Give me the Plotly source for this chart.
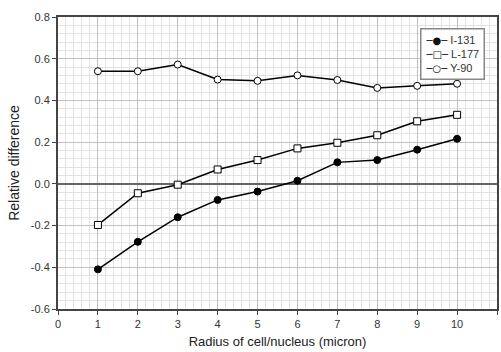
import plotly.graph_objects as go

radius = [1, 2, 3, 4, 5, 6, 7, 8, 9, 10]
i131 = [-0.41, -0.278, -0.16, -0.077, -0.037, 0.015, 0.103, 0.114, 0.164, 0.216]
l177 = [-0.197, -0.045, -0.004, 0.069, 0.114, 0.17, 0.197, 0.233, 0.30, 0.331]
y90 = [0.54, 0.54, 0.572, 0.50, 0.494, 0.52, 0.498, 0.46, 0.47, 0.48]

x_ticks = list(range(0, 12))
x_ticklabels = [str(v) for v in x_ticks]
y_ticks = [-0.6, -0.4, -0.2, 0.0, 0.2, 0.4, 0.6, 0.8]
y_ticklabels = ["-0.6", "-0.4", "-0.2", "0.0", "0.2", "0.4", "0.6", "0.8"]

names = ["I-131", "L-177", "Y-90"]
glyphs = ["●", "□", "○"]

fig = go.Figure()
series = [
    (names[0], i131, dict(symbol="circle", color="black", size=7, line=dict(color="black", width=1))),
    (names[1], l177, dict(symbol="square", color="white", size=7, line=dict(color="black", width=1))),
    (names[2], y90, dict(symbol="circle", color="white", size=7, line=dict(color="black", width=1))),
]
for name, vals, mk in series:
    fig.add_trace(go.Scatter(x=radius, y=vals, name=name, mode="lines+markers",
                             line=dict(color="black", width=1.5), marker=mk, showlegend=False))

font = "Liberation Sans, Arial, sans-serif"
sym_style = "font-family:DejaVu Sans;font-size:10px;color:#111"
legend_lines = []
for g, n in zip(glyphs, names):
    legend_lines.append(
        f'<span style="{sym_style}">─{g}─</span> {n}'
    )
legend_text = "<br>".join(legend_lines)

fig.update_layout(
    width=501, height=352,
    margin=dict(l=58, r=4, t=17, b=43, autoexpand=False),
    paper_bgcolor="white", plot_bgcolor="white",
    font=dict(family=font, size=11, color="#333"),
    showlegend=False,
    annotations=[dict(
        text=legend_text, xref="paper", yref="paper", x=0.825, y=0.962,
        xanchor="left", yanchor="top", align="left", showarrow=False,
        bgcolor="white", bordercolor="#888", borderwidth=1.5, borderpad=4,
        font=dict(family=font, size=11, color="#333"),
    )],
    xaxis=dict(range=[0, 11], tickvals=x_ticks, ticktext=x_ticklabels,
               showgrid=True, gridcolor="#c0c0c0", gridwidth=1,
               minor=dict(dtick=0.2, tick0=0, showgrid=True, gridcolor="#e2e2e2", gridwidth=1),
               showline=True, linecolor="#444", linewidth=2, mirror=True,
               ticks="outside", ticklen=4, tickcolor="#444",
               zeroline=False, automargin=False,
               title=dict(text="Radius of cell/nucleus (micron)", font=dict(size=13, color="#222"), standoff=8)),
    yaxis=dict(range=[-0.6, 0.8], tickvals=y_ticks, ticktext=y_ticklabels,
               showgrid=True, gridcolor="#c0c0c0", gridwidth=1,
               minor=dict(dtick=0.04, tick0=0, showgrid=True, gridcolor="#e2e2e2", gridwidth=1),
               showline=True, linecolor="#444", linewidth=2, mirror=True,
               ticks="outside", ticklen=4, tickcolor="#444",
               zeroline=True, zerolinecolor="#666", zerolinewidth=1.5, automargin=False,
               title=dict(text="Relative difference", font=dict(size=14, color="#222"), standoff=8)),
)
fig.write_html("out.html", config={"displayModeBar": False},
               post_script="document.body.style.margin='0';document.body.style.overflow='hidden';")
